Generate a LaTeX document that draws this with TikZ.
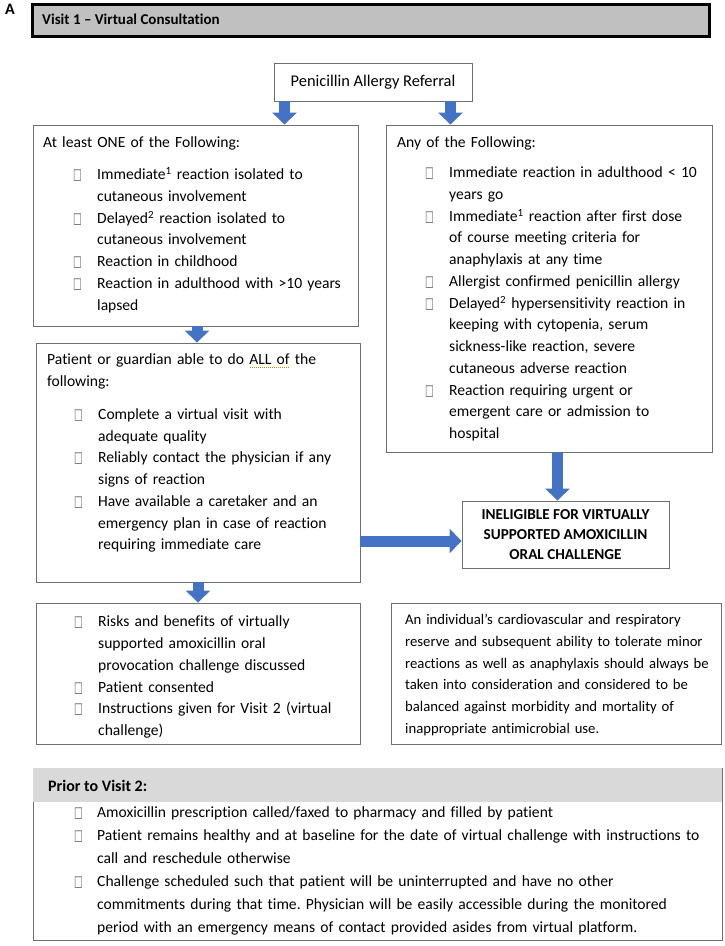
\documentclass[tikz,border=0pt]{standalone}
\usepackage{fontspec}
\setmainfont{Carlito}[Ligatures=NoCommon]
\newfontfamily\dejavu{DejaVu Sans}
\usetikzlibrary{arrows.meta,calc}
\definecolor{arrowblue}{HTML}{4472C4}
\definecolor{boxline}{HTML}{6F6F6F}
\definecolor{titlefill}{HTML}{C0C0C0}
\definecolor{headfill}{HTML}{D9D9D9}
\definecolor{spellgold}{HTML}{C09000}
\frenchspacing
\newcommand\cbx[1][24pt]{\makebox[#1][l]{{\dejavu\fontsize{15}{15}\selectfont\color{black!60}\scalebox{0.62}[1]{□}}}}
\newcommand\itm{\par\noindent\llap{\cbx}}
\newcommand\itmb{\par\noindent\llap{\cbx[23pt]}}
\newcommand\cnt{\par\noindent}
\newcommand\spl[1]{\setbox0\hbox{#1}\rlap{\color{spellgold}\raisebox{-3pt}{\hbox to\wd0{\xleaders\hbox to 2pt{\hss\rule{1pt}{0.9pt}\hss}\hfill}}}#1}
\begin{document}
\begin{tikzpicture}[x=1pt,y=-1pt,
  bx/.style={draw=boxline, line width=0.9pt, inner sep=0pt, fill=white},
  txt/.style={anchor=north west, inner sep=0pt, text width=#1, align=left,
    font=\fontsize{15.6}{21.75}\selectfont},
  barrow/.style={draw=arrowblue, line width=11pt, -{Triangle[length=12pt,width=24pt]}},
]
\useasboundingbox (0,0) rectangle (725,946);

% label and title bar
\node[inner sep=0pt, font=\bfseries\fontsize{16}{16}\selectfont] (lab) at (10,9) {A};
\node[draw=black, line width=3pt, fill=titlefill, minimum width=677pt, minimum height=32pt, inner sep=0pt] (title) at (370.5,20) {};
\node[anchor=west, inner sep=0pt, font=\bfseries\fontsize{15}{15}\selectfont] (titlet) at (42,19) {Visit 1 – Virtual Consultation};

% referral
\node[bx, minimum width=198pt, minimum height=38pt, font=\fontsize{16.4}{16.4}\selectfont] (ref) at (373,82) {Penicillin Allergy Referral};

% boxes
\node[bx, minimum width=325pt, minimum height=201pt] (L1) at (195.5,225.5) {};
\node[bx, minimum width=326pt, minimum height=327pt] (R1) at (549,288.5) {};
\node[bx, minimum width=324pt, minimum height=239pt] (L2) at (198,462.5) {};
\node[bx, minimum width=207pt, minimum height=67pt, align=center,
      font=\bfseries\fontsize{15.2}{20}\selectfont] (inel) at (565.5,534.5)
  {INELIGIBLE FOR VIRTUALLY\\SUPPORTED AMOXICILLIN\\ORAL CHALLENGE};
\node[bx, minimum width=324pt, minimum height=141pt] (L3) at (198,673.5) {};
\node[bx, minimum width=330pt, minimum height=141pt] (note) at (556,673.5) {};
\node[bx, minimum width=689pt, minimum height=172pt] (prior) at (377.5,854) {};
\fill[headfill] ([shift={(0.6pt,-0.6pt)}]prior.north west) rectangle ($(prior.north east)+(-0.6,34)$);

% texts
\node[txt=340pt] (L1t) at (43,{147.5-15.2}) {\strut At least ONE of the Following:\par\vspace{10.25pt}\leftskip=54pt
\itm Immediate\textsuperscript{1} reaction isolated to
\cnt cutaneous involvement
\itm Delayed\textsuperscript{2} reaction isolated to
\cnt cutaneous involvement
\itm Reaction in childhood
\itm Reaction in adulthood with >10 years
\cnt lapsed\par};

\node[txt=340pt] (R1t) at (397,{147.5-15.2}) {\strut Any of the Following:\par\vspace{8.25pt}\leftskip=52pt
\itm Immediate reaction in adulthood < 10
\cnt years go
\itm Immediate\textsuperscript{1} reaction after first dose
\cnt of course meeting criteria for
\cnt anaphylaxis at any time
\itm Allergist confirmed penicillin allergy
\itm Delayed\textsuperscript{2} hypersensitivity reaction in
\cnt keeping with cytopenia, serum
\cnt sickness-like reaction, severe
\cnt cutaneous adverse reaction
\itm Reaction requiring urgent or
\cnt emergent care or admission to
\cnt hospital\par};

\node[txt=340pt] (L2t) at (47,{364.5-15.2}) {\strut Patient or guardian able to do \spl{ALL of} the
\par following:\par\vspace{11.25pt}\leftskip=51pt
\itm Complete a virtual visit with
\cnt adequate quality
\itm Reliably contact the physician if any
\cnt signs of reaction
\itm Have available a caretaker and an
\cnt emergency plan in case of reaction
\cnt requiring immediate care\par};

\node[txt=340pt] (L3t) at (47,{620-15.2}) {\leftskip=51pt
\itm\strut Risks and benefits of virtually
\cnt supported amoxicillin oral
\cnt provocation challenge discussed
\itm Patient consented
\itm Instructions given for Visit 2 (virtual
\cnt challenge)\par};

\node[txt=340pt, font=\fontsize{14.7}{21.75}\selectfont] (notet) at (405,{624.5-15.2}) {\strut An individual’s cardiovascular and respiratory
\par reserve and subsequent ability to tolerate minor
\par reactions as well as anaphylaxis should always be
\par taken into consideration and considered to be
\par balanced against morbidity and mortality of
\par inappropriate antimicrobial use.\par};

\node[anchor=base west, inner sep=0pt, font=\bfseries\fontsize{16}{16}\selectfont] (priorh) at (48,791) {Prior to Visit 2:};
\node[txt=660pt, font=\fontsize{15.6}{23}\selectfont] (priort) at (97,{810-16.1}) {\leftskip=0pt
\itmb\strut Amoxicillin prescription called/faxed to pharmacy and filled by patient
\itmb Patient remains healthy and at baseline for the date of virtual challenge with instructions to
\cnt call and reschedule otherwise
\itmb Challenge scheduled such that patient will be uninterrupted and have no other
\cnt commitments during that time. Physician will be easily accessible during the monitored
\cnt period with an emergency means of contact provided asides from virtual platform.\par};

% arrows
\draw[barrow] ([xshift=11pt]ref.south west) -- ([xshift=11pt]ref.south west |- L1.north);
\draw[barrow] ([xshift=-22pt]ref.south east) -- ([xshift=-22pt]ref.south east |- R1.north);
\draw[barrow] ([xshift=1.5pt]L1.south) -- ([xshift=1.5pt]L1.south |- L2.north);
\draw[barrow] ([xshift=8.5pt]R1.south) -- ([xshift=8.5pt]R1.south |- inel.north);
\draw[barrow] ([yshift=-6.5pt]L2.east |- inel.west) -- ([yshift=-6.5pt]inel.west);
\draw[barrow] (L2.south) -- (L3.north);
\end{tikzpicture}
\end{document}
